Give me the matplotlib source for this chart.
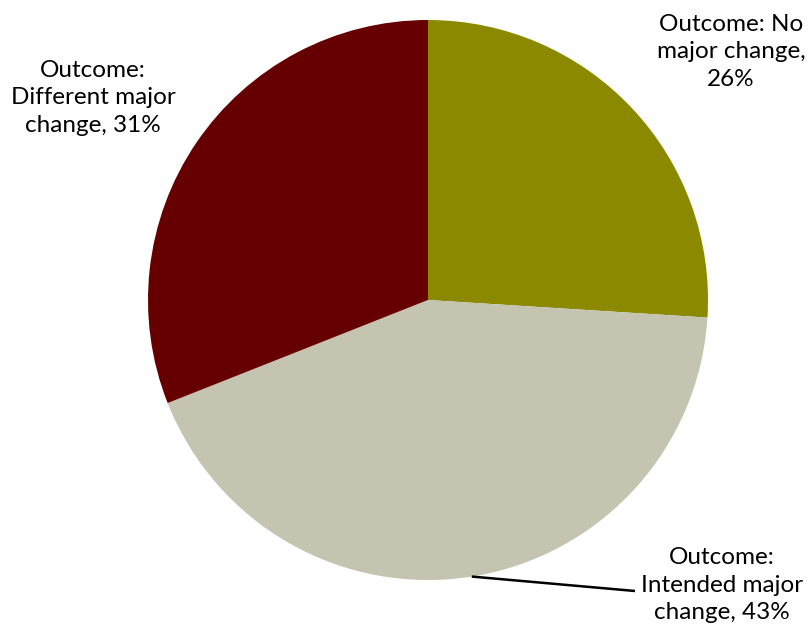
import matplotlib.pyplot as plt
import numpy as np

plt.rcParams['font.family'] = ['Lato', 'DejaVu Sans']

categories = ['Outcome: No\nmajor change,', 'Outcome:\nIntended major\nchange,', 'Outcome:\nDifferent major\nchange,']
shares = [26, 43, 31]
colors = ['#8b8900', '#c5c4b1', '#660000']

W, H = 808, 633
cx, cy, R = 428, 300, 280  # pie centre and radius in pixels


def px(x, y):
    # pixel position (from top-left) -> data coords, 1 unit = pie radius
    return (x - cx) / R, (cy - y) / R


fig = plt.figure(figsize=(W / 100, H / 100), dpi=100)
ax = fig.add_axes([0, 0, 1, 1])

wedges, _ = ax.pie(shares, colors=colors, startangle=90, counterclock=False,
                   radius=1, center=(0, 0), wedgeprops={'linewidth': 0})
ax.set_xlim(-cx / R, (W - cx) / R)
ax.set_ylim(-(H - cy) / R, cy / R)
ax.set_aspect('equal')
ax.axis('off')

label_pos = [(731, 52), (722, 585), (93, 98)]
for name, share, (lx, ly) in zip(categories, shares, label_pos):
    sep = '\n' if name.startswith('Outcome: No') else ' '
    text = name + sep + '{}%'.format(share)
    ax.text(*px(lx, ly), text, ha='center', va='center', fontsize=17.5,
            linespacing=1.38, color='black')

# leader line for the bottom slice
w = wedges[1]
mid = np.deg2rad((w.theta1 + w.theta2) / 2)
end = px(635, 591)
ax.plot([np.cos(mid), end[0]], [np.sin(mid), end[1]],
        color='black', lw=1.8, solid_capstyle='butt')

fig.savefig('out.png', dpi=100)
